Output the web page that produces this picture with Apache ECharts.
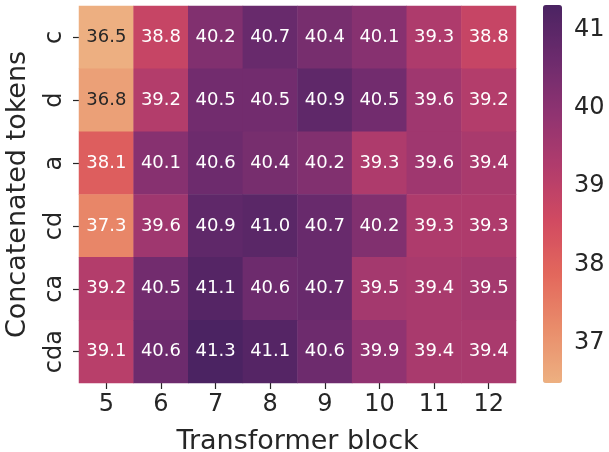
<!DOCTYPE html>
<html><head><meta charset="utf-8">
<script src="https://cdn.jsdelivr.net/npm/echarts@6/dist/echarts.min.js"></script>
<style>html,body{margin:0;padding:0;background:#fff}#c{width:609px;height:452px}</style>
</head><body><div id="c"></div>
<script>
const blocks = ['5','6','7','8','9','10','11','12'];
const tokens = ['c','d','a','cd','ca','cda'];
const values = [
  [36.5,38.8,40.2,40.7,40.4,40.1,39.3,38.8],
  [36.8,39.2,40.5,40.5,40.9,40.5,39.6,39.2],
  [38.1,40.1,40.6,40.4,40.2,39.3,39.6,39.4],
  [37.3,39.6,40.9,41.0,40.7,40.2,39.3,39.3],
  [39.2,40.5,41.1,40.6,40.7,39.5,39.4,39.5],
  [39.1,40.6,41.3,41.1,40.6,39.9,39.4,39.4]
];
const cbTicks = [37,38,39,40,41];
const vmin = 36.49, vmax = 41.31;
const flare = ['#EDB081','#E98D6B','#E3685C','#D14A61','#B13C6C','#8F3371','#6C2B6D','#4B2362'];

const data = [];
values.forEach((row, r) => row.forEach((v, c) => {
  data.push({value: [c, r, v], label: {color: v < 37.0 ? '#262626' : '#ffffff'}});
}));

const font = 'DejaVu Sans';
const chart = echarts.init(document.getElementById('c'), null, {renderer: 'canvas'});
chart.setOption({
  animation: false,
  textStyle: {fontFamily: font},
  grid: [
    {left: 79, right: 93, top: 6, bottom: 69, outerBoundsMode: 'none', containLabel: false},
    {left: 543, width: 19, top: 5, bottom: 69, outerBoundsMode: 'none', containLabel: false}
  ],
  xAxis: [
    {type: 'category', data: blocks, gridIndex: 0,
     axisLine: {show: false}, splitLine: {show: false},
     axisTick: {show: true, alignWithLabel: true, length: 6, lineStyle: {color: '#262626', width: 1.2}},
     axisLabel: {fontSize: 24, color: '#262626', margin: 10, fontFamily: font},
     name: 'Transformer block', nameLocation: 'middle', nameGap: 45,
     nameTextStyle: {fontSize: 27, color: '#262626', fontFamily: font}},
    {type: 'value', gridIndex: 1, show: false, min: 0, max: 1}
  ],
  yAxis: [
    {type: 'category', data: tokens, inverse: true, gridIndex: 0,
     axisLine: {show: false}, splitLine: {show: false},
     axisTick: {show: true, alignWithLabel: true, length: 6, lineStyle: {color: '#262626', width: 1.2}},
     axisLabel: {fontSize: 24, color: '#262626', rotate: 90, margin: 12, fontFamily: font},
     name: 'Concatenated tokens', nameLocation: 'middle', nameGap: 48,
     nameTextStyle: {fontSize: 27, color: '#262626', fontFamily: font}},
    {type: 'value', gridIndex: 1, position: 'right', min: vmin, max: vmax, interval: 1,
     axisLine: {show: false}, splitLine: {show: false},
     axisLabel: {fontSize: 24, color: '#262626', margin: 12, fontFamily: font,
       customValues: cbTicks, formatter: v => String(v)},
     axisTick: {show: true, length: 6, customValues: cbTicks, lineStyle: {color: '#262626', width: 1.2}}}
  ],
  visualMap: {
    type: 'continuous', min: vmin, max: vmax, seriesIndex: 0,
    calculable: false, show: true, text: null, showLabel: false,
    left: 543, top: 5, itemWidth: 19, itemHeight: 378, padding: 0,
    inRange: {color: flare}
  },
  series: [
    {type: 'heatmap', xAxisIndex: 0, yAxisIndex: 0, data: data,
     label: {show: true, fontSize: 18, fontFamily: font, formatter: p => p.value[2].toFixed(1)},
     itemStyle: {borderWidth: 0}, emphasis: {disabled: true}},
    {type: 'scatter', xAxisIndex: 1, yAxisIndex: 1, data: [], silent: true}
  ]
});
</script></body></html>
